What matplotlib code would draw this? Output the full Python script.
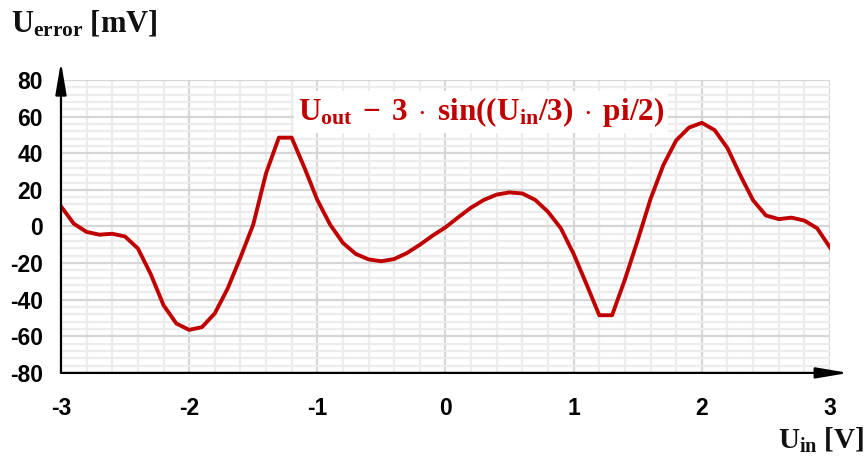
"""
Ошибка выходного напряжения относительно идеальной синусоиды
"""

import numpy as np
import matplotlib.pyplot as plt

# Входное напряжение, В
u_in = [-3.0, -2.9, -2.8, -2.7, -2.6, -2.5, -2.4, -2.3, -2.2, -2.1,
        -2.0, -1.9, -1.8, -1.7, -1.6, -1.5, -1.4, -1.3, -1.2, -1.1,
        -1.0, -0.9, -0.8, -0.7, -0.6, -0.5, -0.4, -0.3, -0.2, -0.1,
        0.0, 0.1, 0.2, 0.3, 0.4, 0.5, 0.6, 0.7, 0.8, 0.9,
        1.0, 1.1, 1.2, 1.3, 1.4, 1.5, 1.6, 1.7, 1.8, 1.9,
        2.0, 2.1, 2.2, 2.3, 2.4, 2.5, 2.6, 2.7, 2.8, 2.9, 3.0]

# Ошибка, мВ
u_error = [11, 1.5, -3, -4.5, -4, -5.5, -12, -26, -43, -53,
           -56.5, -55, -47.5, -34, -17, 1, 29, 48.5, 48.5, 32,
           14.5, 1, -9, -15, -18, -19, -17.8, -14.5, -10, -5,
           -0.5, 5, 10.3, 14.5, 17.4, 18.6, 18, 14.5, 8, -1,
           -15, -31.5, -48.5, -48.5, -29, -7.5, 15, 33.5, 47, 54,
           56.6, 52.6, 42.8, 28, 14.3, 6, 4, 4.8, 3.2, -1, -11.5]

x_ticks = [-3, -2, -1, 0, 1, 2, 3]
y_ticks = [-80, -60, -40, -20, 0, 20, 40, 60, 80]

RED = '#c00000'

plt.rcParams['font.family'] = 'Liberation Sans'
plt.rcParams['mathtext.fontset'] = 'custom'
plt.rcParams['mathtext.rm'] = 'Liberation Serif'
plt.rcParams['mathtext.bf'] = 'Liberation Serif:bold'
plt.rcParams['mathtext.it'] = 'Liberation Serif:italic'

fig = plt.figure(figsize=(8.66, 4.57), dpi=100)
ax = fig.add_axes([0.0704, 0.184, 0.888, 0.641])

# Сетка: основные и вспомогательные линии
ax.set_xticks(np.arange(-3, 3.01, 0.2), minor=True)
ax.set_yticks(np.arange(-80, 81, 4), minor=True)
ax.grid(which='minor', color='#ececec', linewidth=1.6, zorder=0)
ax.grid(which='major', color='#d6d6d6', linewidth=1.6, zorder=0)

ax.plot(u_in, u_error, color=RED, linewidth=2.8, zorder=3,
        solid_joinstyle='round')

ax.set_xlim(-3, 3)
ax.set_ylim(-80, 80)
ax.set_xticks(x_ticks)
ax.set_yticks(y_ticks)
ax.set_xticklabels([str(v) for v in x_ticks])
ax.set_yticklabels([str(v) for v in y_ticks])
ax.tick_params(which='both', length=0)
ax.tick_params(axis='x', pad=17, labelsize=16.5)
ax.tick_params(axis='y', pad=13, labelsize=16.5)
for lbl in ax.get_xticklabels() + ax.get_yticklabels():
    lbl.set_fontweight('bold')

for side in ['top', 'right', 'left', 'bottom']:
    ax.spines[side].set_visible(False)

# Оси со стрелками
arrow = dict(arrowstyle='-|>,head_length=1.3,head_width=0.22',
             color='black', lw=1.6, shrinkA=0, shrinkB=0)
ax.annotate('', xy=(0, 1.062), xytext=(0, 0), xycoords='axes fraction',
            arrowprops=dict(arrow, mutation_scale=15), zorder=5)
ax.annotate('', xy=(1.024, 0), xytext=(0, 0), xycoords='axes fraction',
            arrowprops=dict(arrow, mutation_scale=15), zorder=5)

# Подписи осей
fig.text(0.013, 0.93, r'$\mathbf{U_{error}\ [mV]}$', fontsize=22,
         ha='left', va='baseline', color='#111111')
fig.text(0.998, 0.005, r'$\mathbf{U_{in}\ [V]}$', fontsize=21,
         ha='right', va='bottom', color='#111111')

# Формула ошибки
ax.text(0.546, 0.89,
        r'$\mathbf{U_{out}\;-\;3\;\cdot\;sin((U_{in}/3)\;\cdot\;pi/2)}$',
        transform=ax.transAxes, fontsize=22.5, color=RED, ha='center',
        va='center', zorder=4,
        bbox=dict(facecolor='white', edgecolor='none', pad=3))

fig.savefig('out.png', dpi=100)
